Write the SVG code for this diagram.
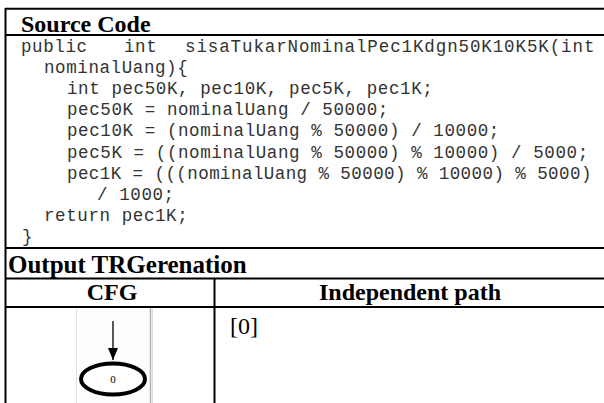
<svg xmlns="http://www.w3.org/2000/svg" width="604" height="403" viewBox="0 0 604 403">
  <defs>
    <style>
      .rule { stroke: #000; stroke-width: 2; fill: none; }
      .head { font-family: "Liberation Serif", "Times New Roman", serif; font-weight: bold; font-size: 24px; fill: #000; }
      .code { font-family: "Liberation Mono", "Courier New", monospace; font-size: 17.5px; letter-spacing: 0.6px; fill: #333; }
      .cell { font-family: "Liberation Serif", "Times New Roman", serif; font-size: 24px; fill: #000; }
      .nodelabel { font-family: "Liberation Serif", "Times New Roman", serif; font-size: 11px; fill: #000; }
    </style>
    <marker id="arrowhead" viewBox="0 0 12 10" refX="12" refY="5" markerWidth="12" markerHeight="10" markerUnits="userSpaceOnUse" orient="auto">
      <path d="M0,0 L12,5 L0,10 z" fill="#000"/>
    </marker>
  </defs>

  <rect width="604" height="403" fill="#fff"/>

  <!-- table rules -->
  <g id="table">
    <line class="rule" x1="5" y1="8.7" x2="606" y2="8.7"/>
    <line class="rule" x1="5.5" y1="8" x2="5.5" y2="403"/>
    <line class="rule" x1="5" y1="35" x2="606" y2="35"/>
    <line class="rule" x1="5" y1="248" x2="606" y2="248"/>
    <line class="rule" x1="5" y1="278.5" x2="606" y2="278.5"/>
    <line class="rule" x1="5" y1="307" x2="606" y2="307"/>
    <line class="rule" x1="214.5" y1="278.5" x2="214.5" y2="403"/>
  </g>

  <!-- section headings -->
  <text class="head" x="21" y="32">Source Code</text>
  <text class="head" x="8" y="273" style="font-size:25px">Output TRGerenation</text>
  <text class="head" x="112" y="300" text-anchor="middle">CFG</text>
  <text class="head" x="410" y="300" text-anchor="middle">Independent path</text>

  <!-- source listing -->
  <g id="source">
    <text class="code" x="21" y="52">public</text>
    <text class="code" x="124" y="52">int</text>
    <text class="code" x="185" y="52" textLength="410" lengthAdjust="spacing">sisaTukarNominalPec1Kdgn50K10K5K(int</text>
    <text class="code" x="44" y="73.1">nominalUang){</text>
    <text class="code" x="67" y="94.2">int pec50K, pec10K, pec5K, pec1K;</text>
    <text class="code" x="67" y="115.3">pec50K = nominalUang / 50000;</text>
    <text class="code" x="67" y="136.4">pec10K = (nominalUang % 50000) / 10000;</text>
    <text class="code" x="67" y="157.5">pec5K = ((nominalUang % 50000) % 10000) / 5000;</text>
    <text class="code" x="67" y="178.6" textLength="525" lengthAdjust="spacing">pec1K = (((nominalUang % 50000) % 10000) % 5000)</text>
    <text class="code" x="97" y="199.7">/ 1000;</text>
    <text class="code" x="44" y="220.8">return pec1K;</text>
    <text class="code" x="22" y="242">}</text>
  </g>

  <!-- CFG picture frame -->
  <g id="cfg-frame">
    <rect x="76" y="308" width="76" height="95" fill="#fdfdfd"/>
    <line x1="76.5" y1="308" x2="76.5" y2="403" stroke="#e0e0e0" stroke-width="1"/>
    <line x1="150.5" y1="308" x2="150.5" y2="403" stroke="#b0b0b0" stroke-width="1.5"/>
    <line x1="152.5" y1="308" x2="152.5" y2="403" stroke="#dadada" stroke-width="1"/>
  </g>

  <!-- CFG connectors -->
  <g id="connectors">
    <line x1="113" y1="321" x2="113" y2="360" stroke="#000" stroke-width="1.3" marker-end="url(#arrowhead)"/>
  </g>

  <!-- CFG node 0 -->
  <g id="node-0">
    <ellipse cx="113" cy="379" rx="32" ry="15.5" fill="#fff" stroke="#000" stroke-width="4"/>
    <text class="nodelabel" x="113" y="383" text-anchor="middle">0</text>
  </g>

  <!-- independent paths -->
  <text class="cell" x="230" y="334">[0]</text>
</svg>
